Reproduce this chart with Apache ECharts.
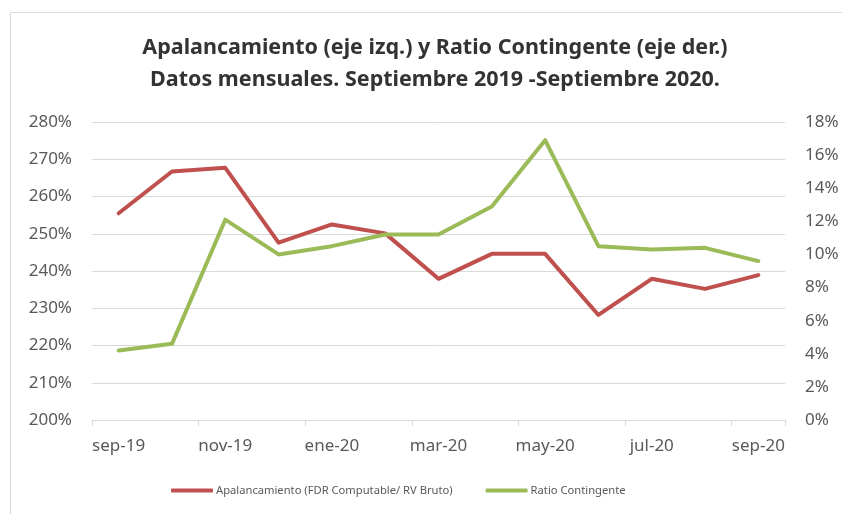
<!DOCTYPE html>
<html>
<head>
    <meta charset="utf-8">
    <title>Apalancamiento y Ratio Contingente</title>
    <script src="https://cdn.jsdelivr.net/npm/echarts@6.0.0/dist/echarts.min.js"></script>
    <style>
        html, body { margin: 0; padding: 0; background: #fff; }
        #chart { width: 842px; height: 514px; }
    </style>
</head>
<body>
    <div id="chart"></div>
    <script>
        // meses sep-19 .. sep-20
        var meses = ['sep-19', 'oct-19', 'nov-19', 'dic-19', 'ene-20', 'feb-20', 'mar-20',
                     'abr-20', 'may-20', 'jun-20', 'jul-20', 'ago-20', 'sep-20'];
        // eje izquierdo (%)
        var apalancamiento = [255.5, 266.7, 267.7, 247.6, 252.5, 250.1, 237.9,
                              244.6, 244.6, 228.2, 237.9, 235.2, 238.9];
        // eje derecho (%)
        var ratioContingente = [4.2, 4.6, 12.1, 10.0, 10.5, 11.2, 11.2,
                                12.9, 16.9, 10.5, 10.3, 10.4, 9.6];

        var gris = '#595959';
        var myChart = echarts.init(document.getElementById('chart'));
        var option = {
            backgroundColor: '#fff',
            animation: false,
            graphic: [{
                type: 'rect',
                shape: { x: 10.5, y: 12.5, width: 840, height: 510 },
                style: { fill: 'none', stroke: '#d9d9d9', lineWidth: 1 },
                silent: true
            }],
            title: {
                text: 'Apalancamiento (eje izq.) y Ratio Contingente (eje der.)\nDatos mensuales. Septiembre 2019 -Septiembre 2020.',
                left: 430,
                textAlign: 'center',
                top: 27,
                textStyle: {
                    fontFamily: 'Noto Sans',
                    fontSize: 21.5,
                    fontWeight: 'bold',
                    color: '#333',
                    lineHeight: 32
                }
            },
            legend: {
                bottom: 13,
                left: 166,
                itemWidth: 42,
                itemHeight: 4,
                itemGap: 33,
                icon: 'roundRect',
                textStyle: { fontFamily: 'Noto Sans', fontSize: 11.2, color: gris, padding: [0, 0, 0, -2] },
                data: ['Apalancamiento (FDR Computable/ RV Bruto)', 'Ratio Contingente']
            },
            grid: { left: 92, right: 57, top: 122, bottom: 94 },
            xAxis: {
                type: 'category',
                data: meses,
                boundaryGap: true,
                axisLine: { lineStyle: { color: '#d9d9d9' } },
                axisTick: { show: true, interval: 1, length: 6, lineStyle: { color: '#d9d9d9' } },
                axisLabel: { interval: 1, margin: 18, fontFamily: 'Noto Sans', fontSize: 17, color: gris }
            },
            yAxis: [{
                type: 'value',
                min: 200, max: 280, interval: 10,
                axisLine: { show: false },
                axisTick: { show: false },
                splitLine: { lineStyle: { color: '#d9d9d9', width: 1 } },
                axisLabel: { formatter: '{value}%', margin: 20, fontFamily: 'Noto Sans', fontSize: 17, color: gris }
            }, {
                type: 'value',
                min: 0, max: 18, interval: 2,
                position: 'right',
                axisLine: { show: false },
                axisTick: { show: false },
                splitLine: { show: false },
                axisLabel: { formatter: '{value}%', margin: 20, fontFamily: 'Noto Sans', fontSize: 17, color: gris }
            }],
            series: [{
                name: 'Apalancamiento (FDR Computable/ RV Bruto)',
                type: 'line',
                yAxisIndex: 0,
                data: apalancamiento,
                symbol: 'none',
                color: '#c0504d',
                lineStyle: { width: 4, color: '#c0504d', cap: 'round', join: 'round' }
            }, {
                name: 'Ratio Contingente',
                type: 'line',
                yAxisIndex: 1,
                data: ratioContingente,
                symbol: 'none',
                color: '#9bbb59',
                lineStyle: { width: 4, color: '#9bbb59', cap: 'round', join: 'round' }
            }]
        };
        myChart.setOption(option);
    </script>
</body>
</html>
